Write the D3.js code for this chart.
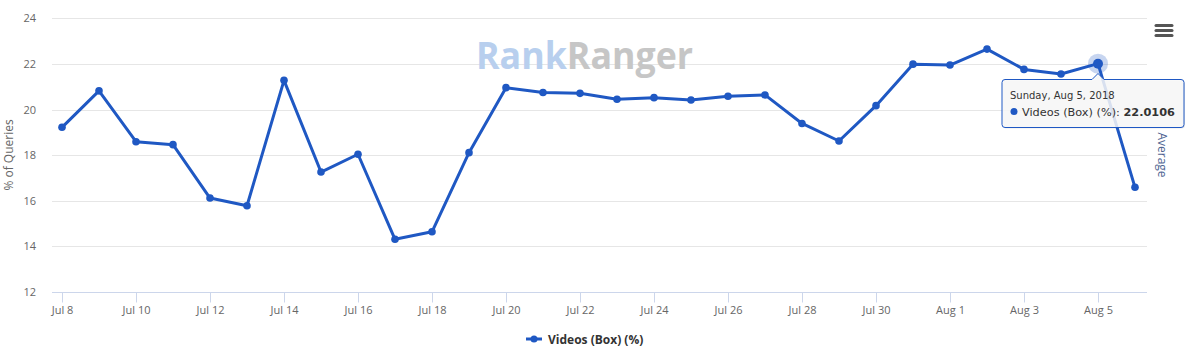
<!DOCTYPE html>
<html><head><meta charset="utf-8">
<script src="https://cdn.jsdelivr.net/npm/d3@7/dist/d3.min.js"></script>
<style>
html,body{margin:0;padding:0;background:#fff;}
svg{display:block;font-family:"Open Sans","Noto Sans",sans-serif;}
</style></head>
<body><svg id="c" width="1188" height="357"></svg>
<script>
const dates = ["2018-07-08","2018-07-09","2018-07-10","2018-07-11","2018-07-12","2018-07-13","2018-07-14","2018-07-15","2018-07-16","2018-07-17","2018-07-18","2018-07-19","2018-07-20","2018-07-21","2018-07-22","2018-07-23","2018-07-24","2018-07-25","2018-07-26","2018-07-27","2018-07-28","2018-07-29","2018-07-30","2018-07-31","2018-08-01","2018-08-02","2018-08-03","2018-08-04","2018-08-05","2018-08-06"];
const values = [19.22,20.82,18.59,18.46,16.12,15.78,21.28,17.26,18.04,14.31,14.64,18.11,20.96,20.75,20.71,20.45,20.52,20.42,20.58,20.64,19.39,18.62,20.17,21.99,21.95,22.65,21.76,21.56,22.0106,16.59];
const yTicks = [12,14,16,18,20,22,24];
const xTickDates = ["2018-07-08","2018-07-10","2018-07-12","2018-07-14","2018-07-16","2018-07-18","2018-07-20","2018-07-22","2018-07-24","2018-07-26","2018-07-28","2018-07-30","2018-08-01","2018-08-03","2018-08-05"];
const seriesName = "Videos (Box) (%)";
const yTitle = "% of Queries";
const y2Title = "Average";
const hoverIndex = 28;

const parse = d3.timeParse("%Y-%m-%d");
const data = dates.map((d,i)=>({date:parse(d), value:values[i]}));
const color = "#1f58c3";
const svg = d3.select("#c");
const plotL = 52, plotR = 1147, plotT = 18, plotB = 292;

const x = d3.scaleTime().domain([parse(dates[0]), parse(dates[dates.length-1])]).range([62, 1135]);
const y = d3.scaleLinear().domain([12,24]).range([plotB, 18.3]);

// gridlines
svg.append("g").selectAll("line").data(yTicks.filter(t=>t>12)).join("line")
  .attr("x1",plotL).attr("x2",plotR)
  .attr("y1",d=>Math.round(y(d))+0.5).attr("y2",d=>Math.round(y(d))+0.5)
  .attr("stroke","#e6e6e6").attr("stroke-width",1);

// y labels
svg.append("g").selectAll("text").data(yTicks).join("text")
  .attr("x",36).attr("y",d=>y(d)+4).attr("text-anchor","end")
  .attr("font-size","11px").attr("fill","#666").text(d=>d);

// x axis
const xAxis = d3.axisBottom(x).tickValues(xTickDates.map(parse)).tickFormat(d3.timeFormat("%b %-d")).tickSize(10).tickPadding(4);
const gx = svg.append("g").attr("transform",`translate(0,${plotB+0.5})`).call(xAxis);
gx.select(".domain").remove();
gx.selectAll(".tick line").attr("stroke","#ccd6eb");
gx.selectAll(".tick text").attr("font-size","11px").attr("fill","#666").attr("font-family","'Open Sans',sans-serif");
svg.append("line").attr("x1",plotL).attr("x2",plotR).attr("y1",plotB+0.5).attr("y2",plotB+0.5).attr("stroke","#ccd6eb");

// axis titles
svg.append("text").attr("transform",`translate(13,155) rotate(-90)`).attr("text-anchor","middle")
  .attr("font-size","12px").attr("fill","#666").text(yTitle);
svg.append("text").attr("transform",`translate(1158,155) rotate(90)`).attr("text-anchor","middle")
  .attr("font-size","12px").attr("fill","#4f6592").text(y2Title);

// watermark
const wm = svg.append("text").attr("x",476).attr("y",69).attr("font-size","38px").attr("font-weight","bold")
  .attr("font-family","'Open Sans',sans-serif").attr("textLength",217).attr("lengthAdjust","spacingAndGlyphs");
wm.append("tspan").attr("fill","#b8cfee").text("Rank");
wm.append("tspan").attr("fill","#c6c6c6").text("Ranger");

// line
const line = d3.line().x(d=>x(d.date)).y(d=>y(d.value));
svg.append("path").datum(data).attr("d",line).attr("fill","none").attr("stroke",color).attr("stroke-width",3).attr("stroke-linejoin","round");
svg.append("g").selectAll("circle").data(data).join("circle")
  .attr("cx",d=>x(d.date)).attr("cy",d=>y(d.value)).attr("r",3.8).attr("fill",color);

// hover halo
const hp = data[hoverIndex];
svg.append("circle").attr("cx",x(hp.date)).attr("cy",y(hp.value)).attr("r",10).attr("fill",color).attr("fill-opacity",0.25);
svg.append("circle").attr("cx",x(hp.date)).attr("cy",y(hp.value)).attr("r",5).attr("fill",color);

// tooltip
const tx = 1002, ty = 79.5, tw = 182, th = 48;
const ax = x(hp.date);
const shape = `M${tx+3},${ty} L${ax-6},${ty} L${ax},${ty-6} L${ax+6},${ty} L${tx+tw-3},${ty} Q${tx+tw},${ty} ${tx+tw},${ty+3} L${tx+tw},${ty+th-3} Q${tx+tw},${ty+th} ${tx+tw-3},${ty+th} L${tx+3},${ty+th} Q${tx},${ty+th} ${tx},${ty+th-3} L${tx},${ty+3} Q${tx},${ty} ${tx+3},${ty} Z`;
const tg = svg.append("g").attr("font-family","'DejaVu Sans',Verdana,sans-serif");
tg.append("path").attr("d",shape).attr("fill","rgba(0,0,0,0.08)").attr("transform","translate(1,1)");
tg.append("path").attr("d",shape).attr("fill","rgba(249,249,249,0.85)").attr("stroke",color).attr("stroke-width",1);
tg.append("text").attr("x",tx+8).attr("y",ty+19).attr("font-size","10px").attr("fill","#333")
  .text(d3.timeFormat("%A, %b %-d, %Y")(hp.date));
tg.append("circle").attr("cx",tx+12).attr("cy",ty+32).attr("r",3.5).attr("fill",color);
const tt = tg.append("text").attr("x",tx+20).attr("y",ty+36).attr("font-size","11.3px").attr("fill","#333");
tt.append("tspan").text(seriesName + ": ");
tt.append("tspan").attr("font-weight","bold").text(hp.value.toFixed(4));

// hamburger
svg.append("g").selectAll("line").data([25.5,30.5,35.5]).join("line")
  .attr("x1",1156).attr("x2",1172).attr("y1",d=>d).attr("y2",d=>d)
  .attr("stroke","#555").attr("stroke-width",3).attr("stroke-linecap","round");

// legend
const lg = svg.append("g");
lg.append("line").attr("x1",526).attr("x2",542).attr("y1",339).attr("y2",339).attr("stroke",color).attr("stroke-width",3);
lg.append("circle").attr("cx",534).attr("cy",339).attr("r",3.5).attr("fill",color);
lg.append("text").attr("x",548).attr("y",343.5).attr("font-size","12px").attr("font-weight","bold").attr("fill","#333").text(seriesName);
</script></body></html>
